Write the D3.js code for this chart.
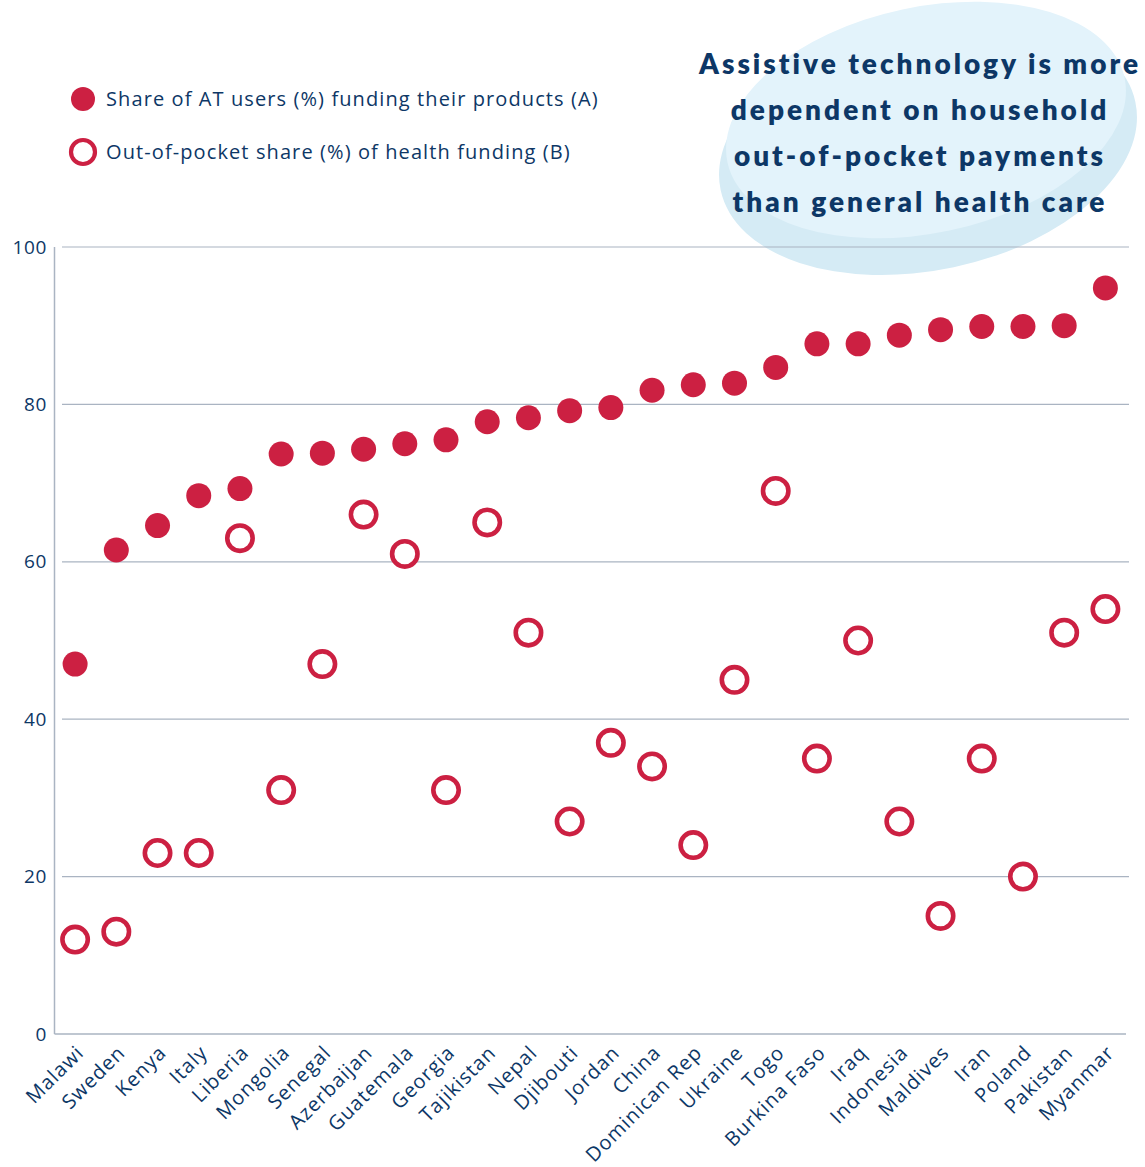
<!DOCTYPE html>
<html>
<head>
<meta charset="utf-8">
<script src="https://cdn.jsdelivr.net/npm/d3@7"></script>
<style>
  html, body { margin: 0; padding: 0; background: #ffffff; }
  svg { display: block; font-family: "Open Sans", "Noto Sans", sans-serif; }
</style>
</head>
<body>
<svg id="chart" width="1145" height="1167"></svg>
<script>
// Countries, ordered by the share of AT users who fund their own products
const countries = ["Malawi", "Sweden", "Kenya", "Italy", "Liberia", "Mongolia", "Senegal",
  "Azerbaijan", "Guatemala", "Georgia", "Tajikistan", "Nepal", "Djibouti", "Jordan", "China",
  "Dominican Rep", "Ukraine", "Togo", "Burkina Faso", "Iraq", "Indonesia", "Maldives", "Iran",
  "Poland", "Pakistan", "Myanmar"];

// (A) Share of AT users (%) funding their products
const atSelfFunded = [47.0, 61.5, 64.6, 68.4, 69.3, 73.7, 73.8, 74.3, 75.0, 75.5, 77.8, 78.3,
  79.2, 79.6, 81.8, 82.5, 82.7, 84.7, 87.7, 87.7, 88.8, 89.5, 89.9, 89.9, 90.0, 94.8];

// (B) Out-of-pocket share (%) of health funding
const outOfPocket = [12, 13, 23, 23, 63, 31, 47, 66, 61, 31, 65, 51, 27, 37, 34, 24, 45, 69,
  35, 50, 27, 15, 35, 20, 51, 54];

const yTicks = [0, 20, 40, 60, 80, 100];

const seriesLabels = [
  "Share of AT users (%) funding their products (A)",
  "Out-of-pocket share (%) of health funding (B)"
];

const headline = [
  "Assistive technology is more",
  "dependent on household",
  "out-of-pocket payments",
  "than general health care"
];

const RED = "#cc2042";
const NAVY = "#0d3766";
const GRID = "#aab4c2";

const svg = d3.select("#chart");

// Speech-bubble style backdrop behind the headline
const blob = svg.append("g");
blob.append("ellipse")
  .attr("cx", 928).attr("cy", 146).attr("rx", 212).attr("ry", 124)
  .attr("transform", "rotate(-12 928 146)")
  .attr("fill", "#d5ebf5");
blob.append("ellipse")
  .attr("cx", 926).attr("cy", 120).attr("rx", 203).attr("ry", 113)
  .attr("transform", "rotate(-12 926 120)")
  .attr("fill", "#e3f3fb");

// Headline
svg.append("g")
  .selectAll("text")
  .data(headline)
  .join("text")
  .attr("x", 920)
  .attr("y", (d, i) => 74 + i * 46)
  .attr("text-anchor", "middle")
  .attr("font-size", 28)
  .attr("font-weight", 800)
  .attr("font-family", "Lato, sans-serif")
  .attr("letter-spacing", 3)
  .attr("fill", NAVY)
  .text(d => d);

// Scales
const x = d3.scaleBand().domain(countries).range([54.5, 1126]).padding(0);
const y = d3.scaleLinear().domain([0, 100]).range([1034, 247]);
const cx = d => x(d) + x.bandwidth() / 2;

// Gridlines
svg.append("g")
  .selectAll("line")
  .data(yTicks.filter(t => t > 0))
  .join("line")
  .attr("x1", 62).attr("x2", 1129)
  .attr("y1", d => y(d)).attr("y2", d => y(d))
  .attr("stroke", GRID).attr("stroke-width", 1.2);

// Axes lines
svg.append("line")
  .attr("x1", 54.5).attr("x2", 54.5).attr("y1", y(100)).attr("y2", y(0))
  .attr("stroke", GRID).attr("stroke-width", 1.5);
svg.append("line")
  .attr("x1", 54.5).attr("x2", 1126).attr("y1", y(0)).attr("y2", y(0))
  .attr("stroke", GRID).attr("stroke-width", 1.5);

// Y tick labels
const yAxis = d3.axisLeft(y).tickValues(yTicks).tickSize(0).tickPadding(0);
const gy = svg.append("g").attr("transform", "translate(47,0)").call(yAxis);
gy.select(".domain").remove();
gy.selectAll("text")
  .attr("font-size", 19).attr("fill", NAVY)
  .attr("letter-spacing", 0.6)
  .attr("font-family", "'Open Sans', sans-serif");

// X tick labels, rotated
const xAxis = d3.axisBottom(x).tickSize(0).tickPadding(0);
const gx = svg.append("g").attr("transform", `translate(0,${y(0)})`).call(xAxis);
gx.select(".domain").remove();
gx.selectAll("text")
  .attr("font-size", 20).attr("fill", NAVY)
  .attr("letter-spacing", 1)
  .attr("font-family", "'Open Sans', sans-serif")
  .attr("text-anchor", "end")
  .attr("dy", 0)
  .attr("transform", "translate(10,20) rotate(-45)");

// Series B: open circles
svg.append("g")
  .selectAll("circle")
  .data(countries.map((c, i) => ({ c, v: outOfPocket[i] })))
  .join("circle")
  .attr("cx", d => cx(d.c))
  .attr("cy", d => y(d.v))
  .attr("r", 12.7)
  .attr("fill", "#ffffff")
  .attr("stroke", RED)
  .attr("stroke-width", 4.6);

// Series A: filled circles
svg.append("g")
  .selectAll("circle")
  .data(countries.map((c, i) => ({ c, v: atSelfFunded[i] })))
  .join("circle")
  .attr("cx", d => cx(d.c))
  .attr("cy", d => y(d.v))
  .attr("r", 12.5)
  .attr("fill", RED);

// Legend
const legend = svg.append("g");
legend.append("circle").attr("cx", 83).attr("cy", 99).attr("r", 12).attr("fill", RED);
legend.append("circle").attr("cx", 83).attr("cy", 152).attr("r", 12)
  .attr("fill", "#ffffff").attr("stroke", RED).attr("stroke-width", 4.2);
legend.selectAll("text")
  .data(seriesLabels)
  .join("text")
  .attr("x", 106)
  .attr("y", (d, i) => 106 + i * 53)
  .attr("font-size", 20)
  .attr("letter-spacing", 1.1)
  .attr("fill", NAVY)
  .text(d => d);
</script>
</body>
</html>
